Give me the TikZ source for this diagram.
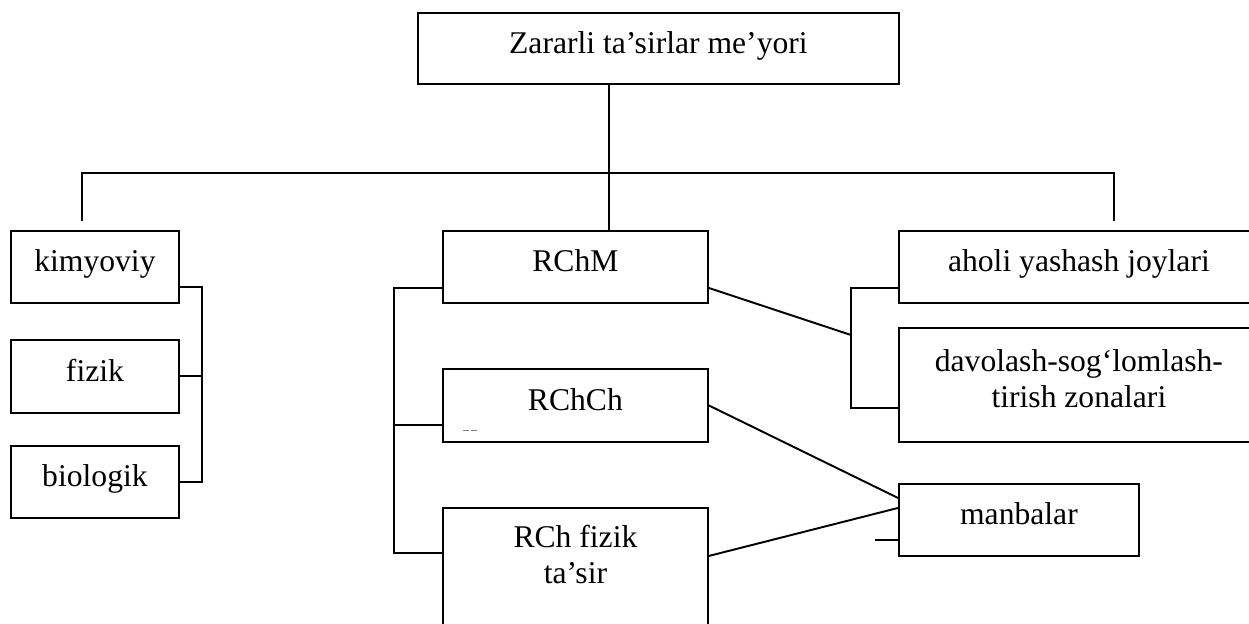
\documentclass[tikz,border=0pt]{standalone}
\usepackage{fontspec}
\setmainfont{Liberation Serif}
\usetikzlibrary{positioning, calc}
\tikzset{
  blok/.style={draw, line width=1.1pt, anchor=north west, inner sep=2pt,
    font=\fontsize{18}{21}\selectfont, align=center},
  oneline/.style={text height=13.5pt, text depth=8.1pt},
  link/.style={line width=1.1pt}
}
\begin{document}
\begin{tikzpicture}[x=0.02cm, y=-0.02cm]
    \useasboundingbox (0,0) rectangle (1249,624);
    \clip (0,0) rectangle (1249,624);
    % top box
    \node[blok, oneline, minimum width=9.62cm, minimum height=1.42cm] (zarar) at (417,12)
          {Zararli ta’sirlar me’yori};
    % left column: kinds of effect
    \node[blok, oneline, minimum width=3.36cm, minimum height=1.44cm] (kim) at (10,230) {kimyoviy};
    \node[blok, oneline, minimum width=3.36cm, minimum height=1.46cm] (fiz) at (10,339) {fizik};
    \node[blok, oneline, minimum width=3.36cm, minimum height=1.44cm] (bio) at (10,445) {biologik};
    % middle column: norms
    \node[blok, oneline, minimum width=5.30cm, minimum height=1.44cm] (rchm) at (442,230) {RChM};
    \node[blok, oneline, minimum width=5.30cm, minimum height=1.46cm] (rchch) at (442,368) {RChCh};
    \node[blok, minimum width=5.30cm, minimum height=2.86cm, text height=1.2cm, text depth=1.02cm]
          (rchf) at (442,507) {RCh fizik\\ta’sir};
    % right column: where they apply
    \node[blok, oneline, minimum width=7.20cm, minimum height=1.44cm] (aholi) at (898,230)
          {aholi yashash joylari};
    \node[blok, minimum width=7.20cm, minimum height=2.28cm, text height=1.4cm, text depth=0.48cm]
          (davol) at (898,327) {davolash-sog‘lomlash-\\tirish zonalari};
    \node[blok, oneline, minimum width=4.80cm, minimum height=1.44cm] (manba) at (898,483) {manbalar};
    % bus from the top box
    \coordinate (hub) at (609,173);
    \coordinate (dropL) at (82,221);
    \coordinate (dropR) at (1114,221);
    \draw[link] (zarar.south -| hub) -- (rchm.north -| hub);
    \draw[link] (dropL) |- (hub) -| (dropR);
    % left bracket
    \coordinate (brL) at (202,287);
    \draw[link] (kim.east |- brL) -- (brL) |- (bio.east);
    \draw[link] (fiz.east) -- (fiz.east -| brL);
    % middle bracket
    \coordinate (brM) at (394,288);
    \coordinate (brMc) at (394,425);
    \coordinate (brMb) at (394,553);
    \draw[link] (rchm.west |- brM) -- (brM) -- (brMb) -- (rchf.west |- brMb);
    \draw[link] (brMc) -- (rchch.west |- brMc);
    % right bracket
    \coordinate (brR) at (851,288);
    \coordinate (brRm) at (851,335);
    \coordinate (brRb) at (851,408);
    \draw[link] (aholi.west |- brR) -- (brR) -- (brRb) -- (davol.west |- brRb);
    \draw[link] (rchm.east |- brR) -- (brRm);
    % links to manbalar
    \coordinate (stub) at (875,540);
    \draw[link] (rchch.east) -- ([yshift=0.44cm]manba.west);
    \draw[link] ([yshift=0.47cm]rchf.east) -- ([yshift=0.24cm]manba.west);
    \draw[link] (stub) -- (manba.west |- stub);
    % stray mark inside RChCh
    \draw[line width=0.3pt, gray, dash pattern=on 3.6pt off 0.8pt] (463,430) -- (478,430);
\end{tikzpicture}
\end{document}
